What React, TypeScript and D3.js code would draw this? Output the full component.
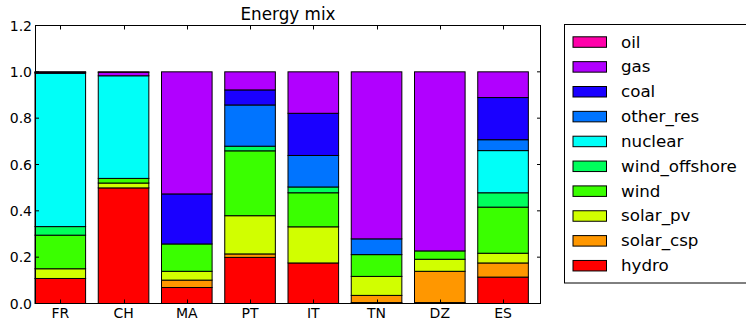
import React from "react";
import * as d3 from "d3";

const countries = ["FR", "CH", "MA", "PT", "IT", "TN", "DZ", "ES"];
// stacking order bottom -> top
const techs = ["hydro", "solar_csp", "solar_pv", "wind", "wind_offshore", "nuclear", "other_res", "coal", "gas", "oil"];
const colors = ["#ff0000", "#ff9700", "#d1ff00", "#3aff00", "#00ff5c", "#00fff8", "#0074ff", "#1a00ff", "#b100ff", "#ff00aa"];

// shares per technology, indexed like countries
const hydro = [0.108, 0.499, 0.069, 0.199, 0.175, 0.004, 0.004, 0.114];
const solar_csp = [0.0, 0.0, 0.032, 0.015, 0.0, 0.031, 0.135, 0.061];
const solar_pv = [0.042, 0.021, 0.038, 0.165, 0.156, 0.082, 0.052, 0.042];
const wind = [0.145, 0.02, 0.118, 0.28, 0.147, 0.094, 0.036, 0.199];
const wind_offshore = [0.037, 0.0, 0.0, 0.02, 0.025, 0.0, 0.0, 0.062];
const nuclear = [0.662, 0.443, 0.0, 0.0, 0.0, 0.0, 0.0, 0.182];
const other_res = [0.0, 0.0, 0.0, 0.178, 0.136, 0.068, 0.0, 0.047];
const coal = [0.003, 0.0, 0.216, 0.065, 0.182, 0.0, 0.0, 0.182];
const gas = [0.002, 0.015, 0.527, 0.078, 0.179, 0.721, 0.773, 0.111];
const oil = [0.001, 0.002, 0.0, 0.0, 0.0, 0.0, 0.0, 0.0];

const seriesValues = [hydro, solar_csp, solar_pv, wind, wind_offshore, nuclear, other_res, coal, gas, oil];
const yTicks = [0, 0.2, 0.4, 0.6, 0.8, 1.0, 1.2];

const W = 746, H = 324;
const L = 35, R = 541, T = 25.5, B = 303.5;
const FONT = "'DejaVu Sans', sans-serif";

export default function App() {
  const x = d3.scaleLinear().domain([0, countries.length]).range([L, R]);
  const y = d3.scaleLinear().domain([0, 1.2]).range([B, T]);

  const rows = countries.map((c, i) => {
    const o: any = { country: c };
    techs.forEach((t, k) => (o[t] = seriesValues[k][i]));
    return o;
  });
  const stacked = d3.stack().keys(techs)(rows);
  const fmt = d3.format(".1f");

  const legendOrder = techs.map((t, k) => ({ t, c: colors[k] })).reverse();
  const rowGap = 24.85;

  return (
    <svg width={W} height={H} style={{ position: "absolute", left: 0, top: 0, background: "#fff" }}>
      <text x={(L + R) / 2} y={20} textAnchor="middle" fontFamily={FONT} fontSize={16.8} fill="#000">
        Energy mix
      </text>
      {stacked.map((s, k) => (
        <g key={techs[k]}>
          {s.map((d, i) => {
            const h = y(d[0]) - y(d[1]);
            if (h <= 0) return null;
            return (
              <rect
                key={i}
                x={x(i)}
                width={x(i + 0.8) - x(i)}
                y={y(d[1])}
                height={h}
                fill={colors[k]}
                stroke="#000"
                strokeWidth={1}
              />
            );
          })}
        </g>
      ))}
      <rect x={L + 0.5} y={T} width={R - L - 1} height={B - T} fill="none" stroke="#000" strokeWidth={1} />
      {yTicks.map((v) => (
        <g key={v}>
          <line x1={L} x2={L + 4} y1={y(v)} y2={y(v)} stroke="#000" />
          <line x1={R - 4} x2={R} y1={y(v)} y2={y(v)} stroke="#000" />
          <text x={32} y={y(v) + 5} textAnchor="end" fontFamily={FONT} fontSize={14} fill="#000">
            {fmt(v)}
          </text>
        </g>
      ))}
      {countries.map((c, i) => {
        const cx = Math.round(x(i + 0.4)) + 0.5;
        return (
          <g key={c}>
            <line x1={cx} x2={cx} y1={B} y2={B - 4} stroke="#000" />
            <line x1={cx} x2={cx} y1={T} y2={T + 4} stroke="#000" />
            <text x={x(i + 0.4)} y={318} textAnchor="middle" fontFamily={FONT} fontSize={14} fill="#000">
              {c}
            </text>
          </g>
        );
      })}
      <rect x={564.5} y={24.5} width={200} height={258.5} fill="#fff" stroke="#000" strokeWidth={1} />
      {legendOrder.map((d, i) => {
        const cy = 42 + i * rowGap;
        return (
          <g key={d.t}>
            <rect x={573} y={cy - 5.2} width={33.5} height={10.5} fill={d.c} stroke="#000" strokeWidth={1} />
            <text x={621} y={cy + 5.5} fontFamily={FONT} fontSize={16.7} fill="#000">
              {d.t}
            </text>
          </g>
        );
      })}
    </svg>
  );
}
